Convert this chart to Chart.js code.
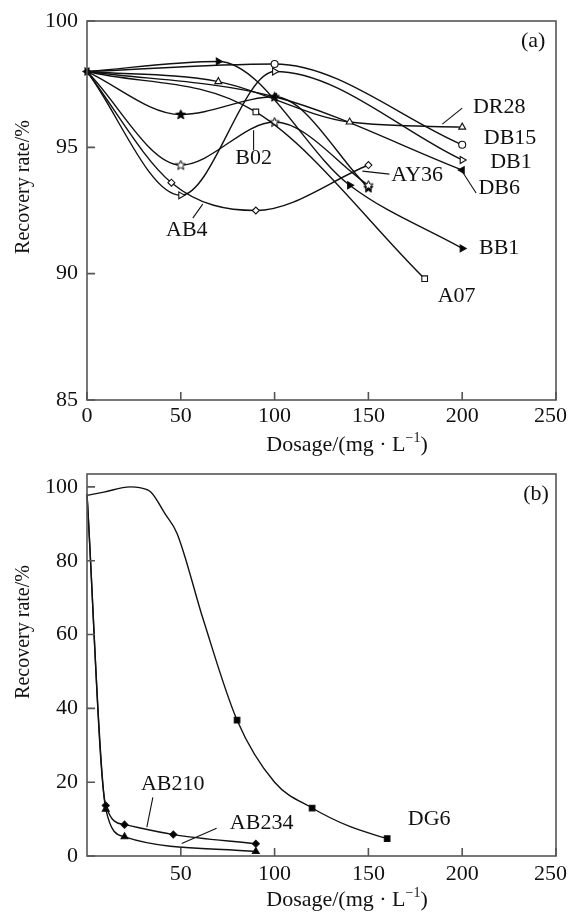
<!DOCTYPE html>
<html>
<head>
<meta charset="utf-8">
<script src="https://cdn.jsdelivr.net/npm/chart.js@4.4.0/dist/chart.umd.min.js"></script>
<style>
  html, body { margin: 0; padding: 0; background: #fff; }
  canvas { display: block; }
</style>
</head>
<body>
<canvas id="graficoA" width="568" height="462"></canvas>
<canvas id="graficoB" width="568" height="452"></canvas>
<script>
// --- Datos panel (a) ---
const xTicksA = [0, 50, 100, 150, 200, 250];
const yTicksA = [85, 90, 95, 100];

const dr28X = [0, 70, 140, 200];
const dr28Y = [98, 97.6, 96.0, 95.8];
const db15X = [0, 100, 200];
const db15Y = [98, 98.3, 95.1];
const db1X = [0, 50, 100, 200];
const db1Y = [98, 93.1, 98.0, 94.5];
const db6X = [0, 100, 200];
const db6Y = [98, 97.0, 94.1];
const bb1X = [0, 70, 140, 200];
const bb1Y = [98, 98.4, 93.5, 91.0];
const a07X = [0, 90, 180];
const a07Y = [98, 96.4, 89.8];
const b02X = [0, 50, 100, 150];
const b02Y = [98, 94.3, 96.0, 93.5];
const ay36X = [0, 50, 100, 150];
const ay36Y = [98, 96.3, 97.0, 93.4];
const ab4X = [0, 45, 90, 150];
const ab4Y = [98, 93.6, 92.5, 94.3];

// --- Datos panel (b) ---
const xTicksB = [50, 100, 150, 200, 250];
const yTicksB = [0, 20, 40, 60, 80, 100];

const dg6X = [0, 9, 23, 28, 34, 42, 48, 62, 80, 100, 120, 140, 160];
const dg6Y = [97.7, 98.6, 100, 99.8, 98.6, 92.4, 87.4, 64, 36.8, 20, 13.0, 8, 4.7];
const dg6Marcas = [80, 120, 160];
const ab210X = [0, 10, 20, 46, 90];
const ab210Y = [98, 13.7, 8.5, 5.8, 3.3];
const ab234X = [0, 10, 20, 90];
const ab234Y = [98, 12.7, 5.2, 1.2];

const fuente = { family: '"Liberation Serif", "Times New Roman", serif', size: 22 };
const negro = '#111';

// estrella de cinco puntas para los marcadores
function estrella(relleno) {
  const c = document.createElement('canvas');
  c.width = 11; c.height = 11;
  const g = c.getContext('2d');
  g.beginPath();
  for (let i = 0; i < 10; i++) {
    const r = i % 2 ? 2.2 : 5;
    const a = -Math.PI / 2 + i * Math.PI / 5;
    g.lineTo(5.5 + r * Math.cos(a), 5.8 + r * Math.sin(a));
  }
  g.closePath();
  g.fillStyle = relleno ? '#000' : '#fff';
  g.fill();
  g.lineWidth = 1;
  g.strokeStyle = '#000';
  g.stroke();
  return c;
}

// el punto de partida (0, 98) solo se marca con las series rellenas
function radioSinInicio(r) {
  return c => c.dataIndex === 0 ? 0 : r;
}

function serie(xs, ys, estilo) {
  return Object.assign({
    data: xs.map((x, i) => ({ x: x, y: ys[i] })),
    borderColor: negro,
    borderWidth: 1.4,
    pointBorderColor: negro,
    pointBorderWidth: 1.1,
    pointBackgroundColor: '#fff',
    pointRadius: radioSinInicio(3.5),
    cubicInterpolationMode: 'monotone',
    fill: false,
    clip: false
  }, estilo);
}

// marco, marcas hacia dentro, rotulos y titulos
const decorado = {
  id: 'decorado',
  afterDraw(chart, args, opts) {
    const ctx = chart.ctx;
    const { left, right, top, bottom } = chart.chartArea;
    const sx = chart.scales.x, sy = chart.scales.y;
    ctx.save();
    ctx.strokeStyle = '#555';
    ctx.lineWidth = 1.6;
    ctx.strokeRect(left, top, right - left, bottom - top);
    ctx.beginPath();
    sx.ticks.forEach(t => {
      const px = sx.getPixelForValue(t.value);
      ctx.moveTo(px, bottom); ctx.lineTo(px, bottom - 8);
    });
    sy.ticks.forEach(t => {
      const py = sy.getPixelForValue(t.value);
      ctx.moveTo(left, py); ctx.lineTo(left + 8, py);
    });
    ctx.stroke();

    ctx.fillStyle = negro;
    ctx.strokeStyle = negro;
    ctx.lineWidth = 1.1;
    ctx.font = '22px "Liberation Serif"';
    ctx.textAlign = 'center';
    ctx.textBaseline = 'middle';

    // etiquetas del eje x (la ultima se ajusta al borde del lienzo)
    sx.ticks.forEach(t => {
      const txt = String(t.value);
      const w = ctx.measureText(txt).width;
      const px = Math.min(sx.getPixelForValue(t.value), chart.width - w / 2 - 1);
      ctx.fillText(txt, px, bottom + opts.despX);
    });

    opts.etiquetas.forEach(e => {
      ctx.fillText(e.texto, sx.getPixelForValue(e.x), sy.getPixelForValue(e.y));
    });
    opts.guias.forEach(g => {
      ctx.beginPath();
      ctx.moveTo(sx.getPixelForValue(g[0]), sy.getPixelForValue(g[1]));
      ctx.lineTo(sx.getPixelForValue(g[2]), sy.getPixelForValue(g[3]));
      ctx.stroke();
    });

    // titulo eje x: Dosage/(mg·L^-1)
    const tx = opts.tituloX;
    const p1 = 'Dosage/(mg \u00b7 L', p2 = '\u22121', p3 = ')';
    ctx.font = '22px "Liberation Serif"';
    const w1 = ctx.measureText(p1).width, w3 = ctx.measureText(p3).width;
    ctx.font = '14px "Liberation Serif"';
    const w2 = ctx.measureText(p2).width;
    let x0 = tx.x - (w1 + w2 + w3) / 2;
    ctx.textAlign = 'left';
    ctx.font = '22px "Liberation Serif"';
    ctx.fillText(p1, x0, tx.y);
    ctx.font = '14px "Liberation Serif"';
    ctx.fillText(p2, x0 + w1, tx.y - 7);
    ctx.font = '22px "Liberation Serif"';
    ctx.fillText(p3, x0 + w1 + w2, tx.y);

    // titulo eje y
    const ty = opts.tituloY;
    ctx.translate(ty.x, ty.y);
    ctx.rotate(-Math.PI / 2);
    ctx.textAlign = 'center';
    ctx.font = '20px "Liberation Serif"';
    ctx.fillText('Recovery rate/%', 0, 0);
    ctx.restore();
  }
};

function escalas(xMin, xMax, xTicks, yMin, yMax, yTicks, altoX) {
  return {
    x: {
      type: 'linear', min: xMin, max: xMax,
      afterBuildTicks: s => { s.ticks = xTicks.map(v => ({ value: v })); },
      afterFit: s => { s.height = altoX; s.paddingLeft = 0; s.paddingRight = 0; },
      grid: { display: false, drawTicks: false },
      border: { display: false },
      ticks: { display: false }
    },
    y: {
      type: 'linear', min: yMin, max: yMax,
      afterBuildTicks: s => { s.ticks = yTicks.map(v => ({ value: v })); },
      afterFit: s => { s.width = 87; s.paddingTop = 0; s.paddingBottom = 0; },
      grid: { display: false, drawTicks: false },
      border: { display: false },
      ticks: { padding: 9, font: fuente, color: negro, autoSkip: false }
    }
  };
}

// --- Panel (a) ---
new Chart(document.getElementById('graficoA'), {
  type: 'line',
  data: {
    datasets: [
      serie(dr28X, dr28Y, { pointStyle: 'triangle', pointRadius: radioSinInicio(4) }),
      serie(db15X, db15Y, { pointStyle: 'circle' }),
      serie(db1X, db1Y, { pointStyle: 'triangle', rotation: 90, pointRadius: radioSinInicio(4) }),
      serie(db6X, db6Y, { pointStyle: 'triangle', rotation: -90, pointRadius: 4, pointBackgroundColor: '#000' }),
      serie(bb1X, bb1Y, { pointStyle: 'triangle', rotation: 90, pointRadius: 4, pointBackgroundColor: '#000' }),
      serie(a07X, a07Y, { pointStyle: 'rect', pointRadius: radioSinInicio(4) }),
      serie(b02X, b02Y, { pointStyle: estrella(false) }),
      serie(ay36X, ay36Y, { pointStyle: estrella(true) }),
      serie(ab4X, ab4Y, { pointStyle: 'rectRot' })
    ]
  },
  options: {
    responsive: false,
    animation: false,
    layout: { padding: { top: 21, right: 12, left: 0, bottom: 0 } },
    plugins: {
      legend: { display: false },
      tooltip: { enabled: false },
      decorado: {
        despX: 16,
        etiquetas: [
          { texto: '(a)', x: 237.8, y: 99.2 },
          { texto: 'DR28', x: 219.7, y: 96.6 },
          { texto: 'DB15', x: 225.5, y: 95.36 },
          { texto: 'DB1', x: 226, y: 94.42 },
          { texto: 'DB6', x: 219.7, y: 93.39 },
          { texto: 'BB1', x: 219.7, y: 91.02 },
          { texto: 'AY36', x: 176, y: 93.9 },
          { texto: 'B02', x: 88.8, y: 94.57 },
          { texto: 'AB4', x: 53.2, y: 91.73 },
          { texto: 'A07', x: 197, y: 89.1 }
        ],
        guias: [
          [189.4, 95.92, 200, 96.55],
          [199.5, 94.1, 207.4, 93.19],
          [146.8, 94.06, 161.2, 93.94],
          [88.8, 95.68, 88.8, 94.89],
          [61.7, 92.75, 56.4, 92.2]
        ],
        tituloX: { x: 347, y: 445 },
        tituloY: { x: 24, y: 187 }
      }
    },
    scales: escalas(0, 250, xTicksA, 85, 100, yTicksA, 62)
  },
  plugins: [decorado]
});

// --- Panel (b) ---
new Chart(document.getElementById('graficoB'), {
  type: 'line',
  data: {
    datasets: [
      serie(dg6X, dg6Y, {
        pointStyle: 'rect',
        pointBackgroundColor: '#000',
        pointRadius: c => dg6Marcas.includes(dg6X[c.dataIndex]) ? 4 : 0
      }),
      serie(ab210X, ab210Y, {
        pointStyle: 'rectRot',
        pointBackgroundColor: '#000'
      }),
      serie(ab234X, ab234Y, {
        pointStyle: 'triangle',
        pointBackgroundColor: '#000',
        pointRadius: radioSinInicio(4)
      })
    ]
  },
  options: {
    responsive: false,
    animation: false,
    layout: { padding: { top: 12, right: 12, left: 0, bottom: 0 } },
    plugins: {
      legend: { display: false },
      tooltip: { enabled: false },
      decorado: {
        despX: 18,
        etiquetas: [
          { texto: '(b)', x: 239.4, y: 98.1 },
          { texto: 'AB210', x: 45.7, y: 19.4 },
          { texto: 'AB234', x: 93.1, y: 8.9 },
          { texto: 'DG6', x: 182.4, y: 10.0 }
        ],
        guias: [
          [35.1, 15.9, 31.9, 7.8],
          [69.1, 7.5, 50.5, 3.4]
        ],
        tituloX: { x: 347, y: 438 },
        tituloY: { x: 24, y: 170 }
      }
    },
    scales: escalas(0, 250, xTicksB, 0, 103.5, yTicksB, 58)
  },
  plugins: [decorado]
});
</script>
</body>
</html>
